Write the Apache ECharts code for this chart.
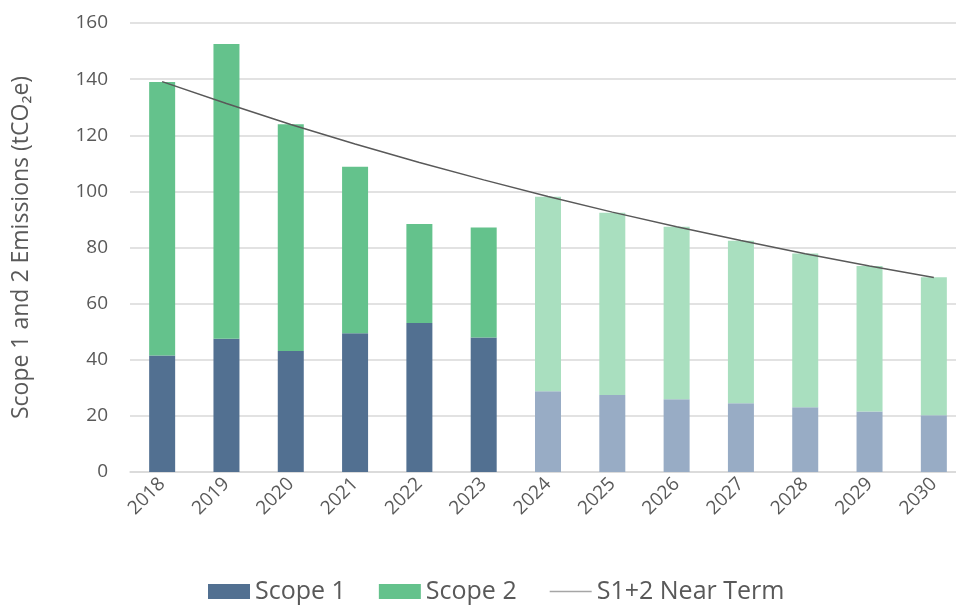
<!DOCTYPE html>
<html><head><meta charset="utf-8">
<script src="https://cdn.jsdelivr.net/npm/echarts@6/dist/echarts.min.js"></script>
<style>html,body{margin:0;padding:0;background:#fff;overflow:hidden}#c{width:966px;height:606px}</style>
</head><body><div id="c"></div>
<script>
var years = ['2018','2019','2020','2021','2022','2023','2024','2025','2026','2027','2028','2029','2030'];
var scope1 = [41.5, 47.5, 43.1, 49.4, 53.1, 47.9, 28.8, 27.4, 25.9, 24.5, 23.1, 21.6, 20.2];
var scope2 = [97.5, 105.0, 80.8, 59.4, 35.3, 39.2, 69.3, 65.0, 61.5, 57.9, 54.8, 51.8, 49.2];
var nearTerm = [139.1, 131.3, 123.8, 116.9, 110.3, 104.1, 98.2, 92.6, 87.4, 82.5, 77.8, 73.4, 69.3];
var firstProjected = 6;
var yTicks = [0, 20, 40, 60, 80, 100, 120, 140, 160];

var C1 = '#527091', C1p = '#98ACC5', C2 = '#64C28C', C2p = '#A9DFBF';
function styled(arr, c, cp) {
  return arr.map(function (v, i) { return { value: v, itemStyle: { color: i >= firstProjected ? cp : c } }; });
}
var font = '"Open Sans", "Noto Sans", sans-serif';
var chart = echarts.init(document.getElementById('c'), null, { renderer: 'canvas' });
chart.setOption({
  animation: false,
  textStyle: { fontFamily: font, color: '#595959' },
  grid: { left: 130, right: 0, top: 23, bottom: 134 },
  legend: {
    top: 574, left: 203, itemWidth: 42, itemHeight: 15, itemGap: 33,
    textStyle: { fontSize: 25, color: '#595959', fontFamily: font },
    data: [
      { name: 'Scope 1', icon: 'rect' },
      { name: 'Scope 2', icon: 'rect' },
      { name: 'S1+2 Near Term', icon: 'path://M0,0H50V2H0Z', itemStyle: { color: '#A6A6A6' } }
    ]
  },
  xAxis: {
    type: 'category', data: years,
    axisLine: { lineStyle: { color: '#D9D9D9', width: 1.5 } },
    axisTick: { show: false },
    axisLabel: { rotate: 45, fontSize: 19, color: '#595959', margin: 9, interval: 0 }
  },
  yAxis: {
    type: 'value', min: yTicks[0], max: yTicks[yTicks.length - 1], interval: 20,
    name: 'Scope 1 and 2 Emissions (tCO\u2082e)', nameLocation: 'middle', nameGap: 97,
    nameTextStyle: { fontSize: 23, color: '#595959' },
    axisLine: { show: false }, axisTick: { show: false },
    axisLabel: { fontSize: 19, color: '#595959', margin: 22 },
    splitLine: { lineStyle: { color: '#D9D9D9', width: 1.5 } }
  },
  series: [
    { name: 'Scope 1', type: 'bar', stack: 's', barWidth: 26, itemStyle: { color: C1 }, data: styled(scope1, C1, C1p) },
    { name: 'Scope 2', type: 'bar', stack: 's', barWidth: 26, itemStyle: { color: C2 }, data: styled(scope2, C2, C2p) },
    { name: 'S1+2 Near Term', type: 'line', symbol: 'none', data: nearTerm,
      lineStyle: { color: '#595959', width: 1.5 }, itemStyle: { color: '#A6A6A6' }, z: 5 }
  ]
});
</script></body></html>
